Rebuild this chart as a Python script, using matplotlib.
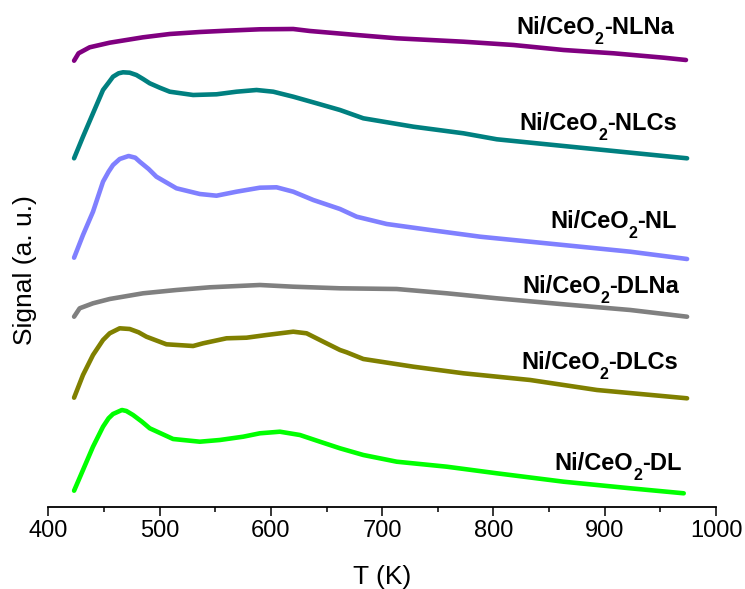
import matplotlib
matplotlib.use("Agg")
import matplotlib.pyplot as plt
from matplotlib.transforms import offset_copy

plt.rcParams["font.family"] = ["Liberation Sans", "DejaVu Sans"]

# H2-TPD style traces, vertically stacked (signal in a.u.)
T_nlna = [423, 427, 437, 455, 485, 509, 536, 560, 590, 620, 635, 653, 677, 713, 773, 818, 863, 908, 953, 973]
S_nlna = [4.463, 4.537, 4.597, 4.643, 4.697, 4.73, 4.75, 4.763, 4.777, 4.78, 4.76, 4.743, 4.72, 4.687, 4.653,
          4.62, 4.57, 4.537, 4.493, 4.47]

T_nlcs = [423, 431, 440, 449, 454, 458, 463, 467, 473, 479, 485, 491, 500, 509, 530, 551, 569, 587, 602, 620,
          641, 662, 683, 728, 773, 803, 863, 908, 953, 974]
S_nlcs = [3.487, 3.703, 3.937, 4.17, 4.243, 4.303, 4.337, 4.347, 4.343, 4.32, 4.28, 4.237, 4.193, 4.153, 4.12,
          4.127, 4.153, 4.17, 4.153, 4.103, 4.037, 3.97, 3.887, 3.803, 3.737, 3.677, 3.61, 3.56, 3.51, 3.487]

T_nl = [423, 431, 440, 449, 454, 458, 464, 472, 478, 482, 490, 497, 515, 536, 551, 569, 590, 605, 620, 638,
        662, 677, 704, 743, 788, 833, 878, 923, 974]
S_nl = [2.493, 2.72, 2.953, 3.253, 3.353, 3.42, 3.48, 3.51, 3.493, 3.453, 3.38, 3.303, 3.187, 3.13, 3.113,
        3.153, 3.193, 3.197, 3.153, 3.07, 2.98, 2.903, 2.83, 2.77, 2.703, 2.653, 2.603, 2.553, 2.48]

T_dlna = [423, 428, 440, 455, 485, 515, 545, 590, 620, 662, 713, 758, 803, 863, 923, 974]
S_dlna = [1.903, 1.987, 2.037, 2.08, 2.137, 2.17, 2.197, 2.22, 2.203, 2.187, 2.18, 2.137, 2.087, 2.027, 1.97, 1.903]

T_dlcs = [423, 431, 440, 449, 455, 464, 473, 481, 488, 506, 530, 539, 560, 578, 596, 620, 632, 647, 662, 668,
          683, 728, 773, 833, 893, 974]
S_dlcs = [1.093, 1.32, 1.52, 1.67, 1.737, 1.787, 1.78, 1.747, 1.703, 1.627, 1.61, 1.637, 1.687, 1.693, 1.72,
          1.753, 1.737, 1.653, 1.57, 1.547, 1.48, 1.403, 1.337, 1.27, 1.17, 1.087]

T_dl = [423, 431, 440, 449, 454, 458, 466, 470, 476, 484, 491, 512, 536, 554, 575, 590, 608, 626, 644, 662,
        683, 713, 758, 803, 863, 923, 971]
S_dl = [0.163, 0.37, 0.603, 0.803, 0.887, 0.93, 0.97, 0.96, 0.92, 0.853, 0.787, 0.68, 0.653, 0.67, 0.703,
        0.737, 0.753, 0.72, 0.653, 0.587, 0.52, 0.453, 0.403, 0.337, 0.253, 0.187, 0.137]

names = ["NLNa", "NLCs", "NL", "DLNa", "DLCs", "DL"]
colors = ["#800080", "#008080", "#8080FF", "#808080", "#808000", "#00FF00"]
series = [(T_nlna, S_nlna), (T_nlcs, S_nlcs), (T_nl, S_nl), (T_dlna, S_dlna), (T_dlcs, S_dlcs), (T_dl, S_dl)]
# label anchor (right edge, baseline) for each trace
label_pos = [(962, 4.73), (965, 3.77), (965, 2.79), (967, 2.14), (966, 1.383), (969, 0.37)]

fig = plt.figure(figsize=(7.45, 5.89), dpi=100)
ax = fig.add_axes([48.5 / 745, 1 - 507 / 589, 667.5 / 745, 497 / 589])

for (t, s), c in zip(series, colors):
    ax.plot(t, s, color=c, lw=3.3, solid_capstyle="round", solid_joinstyle="round")

ax.set_xlim(400, 1000)
ax.set_ylim(0, 4.97)
ax.set_xticks(range(400, 1001, 100))
ax.set_xticks(range(450, 1000, 100), minor=True)
ax.set_yticks([])
for side in ("left", "right", "top"):
    ax.spines[side].set_visible(False)
ax.spines["bottom"].set_linewidth(1.3)
ax.tick_params(axis="x", which="major", direction="out", length=6.5, width=1.1, pad=3, labelsize=17)
ax.tick_params(axis="x", which="minor", direction="out", length=3.8, width=1.1)

# Sample labels "Ni/CeO2-xxx": built from three pieces so the subscript sits low
renderer = fig.canvas.get_renderer()
main_kw = dict(fontsize=17, fontweight="bold", color="black", va="baseline", ha="right")
sub_kw = dict(fontsize=11.5, fontweight="bold", color="black", va="baseline", ha="right")
sub_drop = 10  # pixels below the main baseline


def text_width(s, **kw):
    t = fig.text(0, 0, s, **kw)
    w = t.get_window_extent(renderer).width
    t.remove()
    return w


for name, (lx, ly) in zip(names, label_pos):
    tail = "-" + name
    w_tail = text_width(tail, **main_kw)
    w_sub = text_width("2", **sub_kw)
    ax.text(lx, ly, tail, **main_kw)
    ax.text(lx, ly, "2", transform=offset_copy(ax.transData, fig=fig, x=-w_tail, y=-sub_drop, units="dots"),
            **sub_kw)
    ax.text(lx, ly, "Ni/CeO", transform=offset_copy(ax.transData, fig=fig, x=-(w_tail + w_sub), y=0,
                                                      units="dots"), **main_kw)

fig.text(382 / 745, 1 - 577 / 589, "T (K)", ha="center", va="center", fontsize=19)
fig.text(25 / 745, 1 - 270 / 589, "Signal (a. u.)", ha="center", va="center", rotation=90, fontsize=19)

fig.savefig("out.png", dpi=100)
